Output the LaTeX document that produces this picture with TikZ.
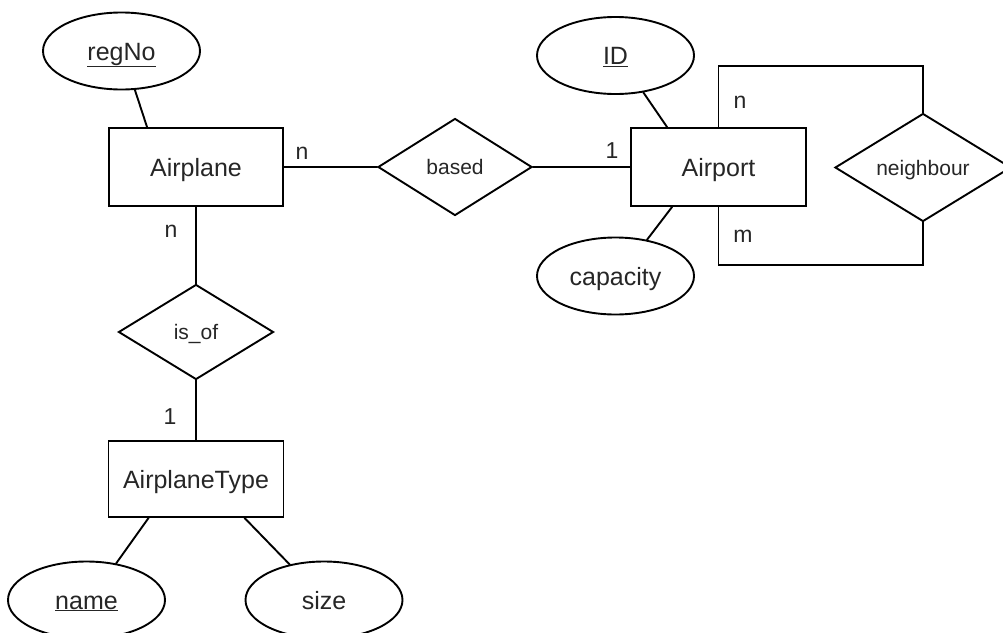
\documentclass[tikz,border=0pt]{standalone}
\usepackage{fontspec}
\setmainfont{Liberation Sans}
\usetikzlibrary{shapes.geometric}
\tikzset{
  conn/.style={line width=1.9pt, line cap=round},
  entity/.style={draw, line width=1.9pt, rectangle, minimum width=175pt, minimum height=78pt, inner sep=0pt, font=\fontsize{25}{30}\selectfont, text=black!85, text height=18pt, text depth=0pt},
  attr/.style={draw, line width=1.9pt, ellipse, minimum width=157pt, minimum height=77pt, inner sep=0pt, font=\fontsize{25}{30}\selectfont, text=black!85, text height=18pt, text depth=0pt},
  rel/.style={draw, line width=1.9pt, diamond, aspect=1.6, inner sep=0pt, font=\fontsize{21}{25}\selectfont, text=black!85, text height=15pt, text depth=0pt},
  card/.style={anchor=base, inner sep=0pt, font=\fontsize{23}{28}\selectfont, text=black!85}
}
\begin{document}
\begin{tikzpicture}[x=1pt,y=-1pt]
\useasboundingbox (0,0) rectangle (1003,632);
\fill[white] (0,0) rectangle (1003,632);
% nodes
\node[entity, minimum width=174pt] (airplane) at (196,167) {Airplane};
\node[attr] (regno) at (121.5,51) {\underline{regNo}};
\node[rel, minimum width=154pt, minimum height=97pt] (based) at (455,167) {based};
\node[entity] (airport) at (718.5,167) {Airport};
\node[attr] (id) at (615.5,55.5) {\underline{ID}};
\node[attr] (capacity) at (615.5,276) {capacity};
\node[rel, minimum width=176pt, minimum height=108pt] (neighbour) at (923,167.5) {neighbour};
\node[rel, minimum width=155pt, minimum height=95pt] (isof) at (196,332) {is\_of};
\node[entity, minimum height=76pt] (atype) at (196,479) {AirplaneType};
\node[attr] (name) at (86.5,600) {\underline{name}};
\node[attr] (size) at (324,600) {size};
% connectors
\draw[conn] (regno.-71.4) -- ([xshift=39pt]airplane.north west);
\draw[conn] (airplane.east) -- (based.west);
\draw[conn] (based.east) -- (airport.west);
\draw[conn] (airplane.south) -- (isof.north);
\draw[conn] (isof.south) -- (atype.north);
\draw[conn] (id.-53.7) -- ([xshift=37pt]airport.north west);
\draw[conn] (capacity.49.7) -- ([xshift=42pt]airport.south west);
\draw[conn, line cap=butt] (airport.north) -- ++(0,-61) -| (neighbour.north);
\draw[conn, line cap=butt] (airport.south) -- ++(0,58) -| (neighbour.south);
\draw[conn] (name.51.3) -- ([xshift=41pt]atype.south west);
\draw[conn] (size.134.2) -- ([xshift=137pt]atype.south west);
% cardinalities
\node[card] (c1) at (302,159) {n};
\node[card] (c2) at (612,158) {1};
\node[card] (c3) at (171,237) {n};
\node[card] (c4) at (170,424) {1};
\node[card] (c5) at (740,108) {n};
\node[card] (c6) at (743,242) {m};
\end{tikzpicture}
\end{document}
